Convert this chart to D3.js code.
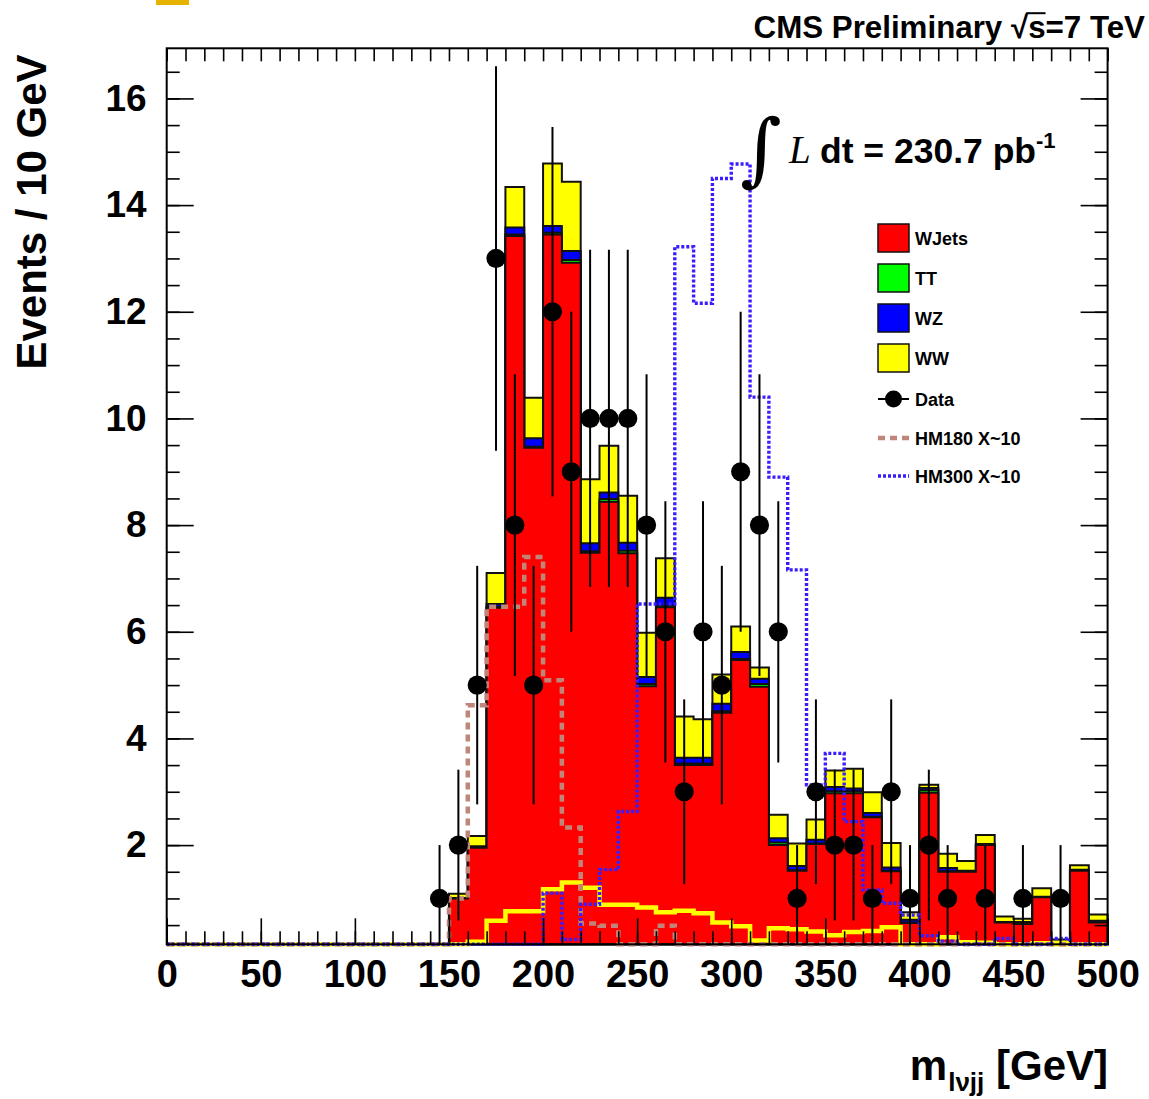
<!DOCTYPE html>
<html>
<head>
<meta charset="utf-8">
<script src="https://cdn.jsdelivr.net/npm/d3@7"></script>
<style>
  body { margin: 0; background: #fff; }
  text { font-family: "Liberation Sans", Arial, Helvetica, sans-serif; font-weight: bold; }
</style>
</head>
<body>
<div id="chart"></div>
<script>
// bin lower edges, 10 GeV each
var binLow = [0, 10, 20, 30, 40, 50, 60, 70, 80, 90, 100, 110, 120, 130, 140, 150, 160, 170, 180, 190,
    200, 210, 220, 230, 240, 250, 260, 270, 280, 290, 300, 310, 320, 330, 340, 350, 360, 370, 380, 390,
    400, 410, 420, 430, 440, 450, 460, 470, 480, 490];
var binWidth = 10;

// stacked MC, per bin
var wjets = [0, 0, 0, 0, 0, 0, 0, 0, 0, 0, 0, 0, 0, 0,
    0, 1.0, 1.95, 6.45, 13.42, 9.45, 13.45, 12.92, 7.48, 8.44, 7.47, 4.98, 6.46, 3.5, 3.5, 4.48, 5.47, 4.97,
    2.0, 1.52, 2.02, 2.97, 2.97, 2.52, 1.51, 0.54, 2.98, 1.5, 1.5, 2.0, 0.55, 0.52, 1.02, 0.12, 1.52, 0.55];
var tt = [0, 0, 0, 0, 0, 0, 0, 0, 0, 0, 0, 0, 0, 0,
    0, 0, 0.01, 0.02, 0.03, 0.02, 0.03, 0.05, 0.03, 0.05, 0.05, 0.04, 0.03, 0.03, 0.03, 0.03, 0.02, 0.05,
    0.05, 0.01, 0.01, 0.04, 0.04, 0.01, 0.01, 0.01, 0.05, 0.01, 0, 0, 0, 0, 0, 0, 0, 0];
var wz = [0, 0, 0, 0, 0, 0, 0, 0, 0, 0, 0, 0, 0, 0,
    0, 0.01, 0.02, 0.05, 0.13, 0.16, 0.13, 0.17, 0.15, 0.12, 0.15, 0.13, 0.15, 0.11, 0.11, 0.14, 0.13, 0.1,
    0.08, 0.08, 0.07, 0.08, 0.05, 0.07, 0.06, 0.05, 0.04, 0.06, 0.02, 0.02, 0.01, 0.04, 0.01, 0.01, 0.02, 0.03];
var ww = [0, 0, 0, 0, 0, 0, 0, 0, 0, 0, 0, 0, 0, 0,
    0, 0.08, 0.19, 0.58, 0.76, 0.76, 1.17, 1.3, 1.2, 0.88, 0.88, 0.83, 0.74, 0.77, 0.72, 0.55, 0.48, 0.21,
    0.44, 0.42, 0.38, 0.31, 0.37, 0.39, 0.46, 0.14, 0.06, 0.27, 0.18, 0.17, 0.1, 0.06, 0.16, 0.1, 0.08, 0.12];

// signal shapes (x~10)
var hm180 = [0, 0, 0, 0, 0, 0, 0, 0, 0, 0, 0, 0, 0, 0,
    0, 1.0, 4.62, 6.47, 6.47, 7.4, 5.09, 2.33, 0.53, 0.49, 0.05, 0.05, 0.49, 0.05, 0.05, 0.05, 0.05, 0.05,
    0.05, 0.05, 0.05, 0.05, 0.05, 0.05, 0.05, 0.05, 0.05, 0.05, 0.05, 0.05, 0.05, 0.05, 0.05, 0.05, 0.05, 0.05];
var hm300 = [0, 0, 0, 0, 0, 0, 0, 0, 0, 0, 0, 0, 0, 0,
    0, 0, 0, 0, 0, 0, 1.1, 0.23, 0.89, 1.54, 2.63, 6.52, 6.52, 13.22, 12.16, 14.5, 14.77, 10.4,
    8.9, 7.16, 3.13, 3.72, 2.44, 1.16, 0.91, 0.69, 0.3, 0.2, 0.1, 0.1, 0.25, 0.1, 0.1, 0.25, 0.1, 0.1];

// observed events
var dataCounts = [0, 0, 0, 0, 0, 0, 0, 0, 0, 0, 0, 0, 0, 0,
    1, 2, 5, 13, 8, 5, 12, 9, 10, 10, 10, 8, 6, 3, 6, 5, 9, 8,
    6, 1, 3, 2, 2, 1, 3, 1, 2, 1, 0, 1, 0, 1, 0, 1, 0, 0];

var xMajor = [0, 50, 100, 150, 200, 250, 300, 350, 400, 450, 500];
var yMajor = [2, 4, 6, 8, 10, 12, 14, 16];

var legendItems = [
    { name: "WJets", color: "#ff0000" },
    { name: "TT", color: "#00ff00" },
    { name: "WZ", color: "#0000ff" },
    { name: "WW", color: "#ffff00" }
];

function init() {
    var W = 1149, H = 1099;
    var margin = { top: 48.3, right: 41.4, bottom: 154.7, left: 166.7 };
    var yMin = 0.14, yMax = 16.94;

    var svg = d3.select("#chart").append("svg")
        .attr("width", W)
        .attr("height", H);

    var x = d3.scaleLinear().domain([0, 500]).range([margin.left, W - margin.right]);
    var y = d3.scaleLinear().domain([yMin, yMax]).range([H - margin.bottom, margin.top]);
    var yb = y(yMin);

    function clampV(v) { return Math.max(yMin, Math.min(yMax, v)); }

    // step outline of a histogram, optionally closed down to the frame bottom
    function histPath(vals, close) {
        var d = close ? "M" + x(binLow[0]) + "," + yb : "";
        vals.forEach(function(v, i) {
            var x0 = x(binLow[i]), x1 = x(binLow[i] + binWidth), yy = y(clampV(v));
            d += (d === "" ? "M" : "L") + x0 + "," + yy + "L" + x1 + "," + yy;
        });
        if (close) d += "L" + x(binLow[binLow.length - 1] + binWidth) + "," + yb + "Z";
        return d;
    }

    // small stray box top-left
    svg.append("rect").attr("x", 156).attr("y", 0).attr("width", 33).attr("height", 5).attr("fill", "#e5b300");

    // cumulative stack, drawn from the top down
    var s1 = wjets;
    var s2 = wjets.map(function(v, i) { return v + tt[i]; });
    var s3 = s2.map(function(v, i) { return v + wz[i]; });
    var s4 = s3.map(function(v, i) { return v + ww[i]; });
    var layers = [[s4, "#ffff00"], [s3, "#0000ff"], [s2, "#00ff00"], [s1, "#ff0000"]];

    var plot = svg.append("g");
    layers.forEach(function(l) {
        plot.append("path")
            .attr("d", histPath(l[0], true))
            .attr("fill", l[1])
            .attr("stroke", "#111")
            .attr("stroke-width", 2)
            .attr("stroke-linejoin", "miter");
    });

    // WW alone as a thick yellow line
    plot.append("path")
        .attr("d", histPath(ww, false))
        .attr("fill", "none")
        .attr("stroke", "#ffff00")
        .attr("stroke-width", 4.5);

    plot.append("path")
        .attr("d", histPath(hm180, false))
        .attr("fill", "none")
        .attr("stroke", "#c08478")
        .attr("stroke-width", 4.5)
        .attr("stroke-dasharray", "7,5");

    plot.append("path")
        .attr("d", histPath(hm300, false))
        .attr("fill", "none")
        .attr("stroke", "#3a1dff")
        .attr("stroke-width", 3.4)
        .attr("stroke-dasharray", "3,2");

    // data with sqrt(n) error bars
    var pts = binLow.map(function(b, i) { return { x: b + binWidth / 2, n: dataCounts[i] }; })
        .filter(function(d) { return d.n > 0; });

    plot.selectAll("line.err")
        .data(pts)
        .enter()
        .append("line")
        .attr("class", "err")
        .attr("x1", function(d) { return x(d.x); })
        .attr("x2", function(d) { return x(d.x); })
        .attr("y1", function(d) { return y(clampV(d.n - Math.sqrt(d.n))); })
        .attr("y2", function(d) { return y(clampV(d.n + Math.sqrt(d.n))); })
        .attr("stroke", "#000")
        .attr("stroke-width", 2);

    plot.selectAll("circle.pt")
        .data(pts)
        .enter()
        .append("circle")
        .attr("class", "pt")
        .attr("cx", function(d) { return x(d.x); })
        .attr("cy", function(d) { return y(d.n); })
        .attr("r", 9.6)
        .attr("fill", "#000");

    // axes with inward ticks on all four sides
    var xMinor = d3.range(0, 501, 10);
    var yMinorT = d3.range(0.5, 16.9, 0.5);

    function noDomain(g) { g.select(".domain").remove(); }

    svg.append("g")
        .attr("transform", "translate(0," + yb + ")")
        .call(d3.axisBottom(x).tickValues(xMinor).tickSize(-13).tickFormat(""))
        .call(noDomain);
    var xAx = svg.append("g")
        .attr("transform", "translate(0," + yb + ")")
        .call(d3.axisBottom(x).tickValues(xMajor).tickSize(-26).tickPadding(16).tickFormat(d3.format("d")))
        .call(noDomain);
    xAx.selectAll("text").style("font-size", "38px").attr("fill", "#000");

    // top edge: short ticks only
    svg.append("g")
        .attr("transform", "translate(0," + margin.top + ")")
        .call(d3.axisTop(x).tickValues(xMinor).tickSize(-13).tickFormat(""))
        .call(noDomain);

    svg.append("g")
        .attr("transform", "translate(" + margin.left + ",0)")
        .call(d3.axisLeft(y).tickValues(yMinorT).tickSize(-13).tickFormat(""))
        .call(noDomain);
    var yAx = svg.append("g")
        .attr("transform", "translate(" + margin.left + ",0)")
        .call(d3.axisLeft(y).tickValues(yMajor).tickSize(-27).tickPadding(20).tickFormat(d3.format("d")))
        .call(noDomain);
    yAx.selectAll("text").style("font-size", "37px").attr("fill", "#000");

    svg.append("g")
        .attr("transform", "translate(" + (W - margin.right) + ",0)")
        .call(d3.axisRight(y).tickValues(yMinorT).tickSize(-13).tickFormat(""))
        .call(noDomain);
    svg.append("g")
        .attr("transform", "translate(" + (W - margin.right) + ",0)")
        .call(d3.axisRight(y).tickValues(yMajor).tickSize(-27).tickFormat(""))
        .call(noDomain);

    svg.selectAll(".tick line").attr("stroke", "#000").attr("stroke-width", 1.6);

    // frame
    svg.append("rect")
        .attr("x", margin.left)
        .attr("y", margin.top)
        .attr("width", W - margin.left - margin.right)
        .attr("height", yb - margin.top)
        .attr("fill", "none")
        .attr("stroke", "#000")
        .attr("stroke-width", 2);

    // axis titles
    svg.append("text")
        .attr("transform", "translate(46,212) rotate(-90)")
        .attr("text-anchor", "middle")
        .style("font-size", "42px")
        .text("Events / 10 GeV");

    var xt = svg.append("text")
        .attr("x", 1108)
        .attr("y", 1080)
        .attr("text-anchor", "end")
        .style("font-size", "42px");
    xt.append("tspan").text("m");
    xt.append("tspan").attr("dy", 11).attr("dx", 1).style("font-size", "26px").text("l\u03bdjj");
    xt.append("tspan").attr("dy", -11).text(" [GeV]");

    // top label with sqrt overline
    var title = svg.append("text")
        .attr("x", 1145)
        .attr("y", 38)
        .attr("text-anchor", "end")
        .style("font-size", "31.3px")
        .text("CMS Preliminary \u221as=7 TeV");
    var tn = title.node();
    var e1 = tn.getExtentOfChar(16), e2 = tn.getExtentOfChar(17);
    svg.append("line")
        .attr("x1", e1.x + e1.width - 2)
        .attr("x2", e2.x + e2.width)
        .attr("y1", 38 - 31 * 0.8)
        .attr("y2", 38 - 31 * 0.8)
        .attr("stroke", "#000")
        .attr("stroke-width", 2);

    // luminosity
    svg.append("text")
        .attr("x", 740)
        .attr("y", 176)
        .style("font-family", "'DejaVu Serif', 'Liberation Serif', serif")
        .style("font-weight", "normal")
        .style("font-size", "80px")
        .text("\u222b");
    svg.append("text")
        .attr("x", 789)
        .attr("y", 163)
        .style("font-family", "'Liberation Serif', serif")
        .style("font-style", "italic")
        .style("font-weight", "normal")
        .style("font-size", "39px")
        .text("L");
    var lumi = svg.append("text")
        .attr("x", 820)
        .attr("y", 163)
        .style("font-size", "35.5px");
    lumi.append("tspan").text("dt = 230.7 pb");
    lumi.append("tspan").attr("dy", -15).style("font-size", "22px").text("-1");

    // legend
    var lg = svg.append("g");
    legendItems.forEach(function(it, i) {
        var ty = 224 + i * 40;
        lg.append("rect")
            .attr("x", 878).attr("y", ty)
            .attr("width", 31).attr("height", 28)
            .attr("fill", it.color)
            .attr("stroke", "#111")
            .attr("stroke-width", 1.5);
        lg.append("text")
            .attr("x", 915).attr("y", ty + 20.5)
            .style("font-size", "18px")
            .text(it.name);
    });
    lg.append("line").attr("x1", 878).attr("x2", 909).attr("y1", 399).attr("y2", 399)
        .attr("stroke", "#000").attr("stroke-width", 2);
    lg.append("circle").attr("cx", 893.5).attr("cy", 399).attr("r", 8.5).attr("fill", "#000");
    lg.append("text").attr("x", 915).attr("y", 405.5).style("font-size", "18px").text("Data");

    lg.append("line").attr("x1", 878).attr("x2", 909).attr("y1", 438).attr("y2", 438)
        .attr("stroke", "#c08478").attr("stroke-width", 4.5).attr("stroke-dasharray", "7,5");
    lg.append("text").attr("x", 915).attr("y", 444.5).style("font-size", "18px").text("HM180 X~10");

    lg.append("line").attr("x1", 878).attr("x2", 909).attr("y1", 476).attr("y2", 476)
        .attr("stroke", "#3a1dff").attr("stroke-width", 3.4).attr("stroke-dasharray", "3,2");
    lg.append("text").attr("x", 915).attr("y", 482.5).style("font-size", "18px").text("HM300 X~10");
}

window.onload = init;
</script>
</body>
</html>
